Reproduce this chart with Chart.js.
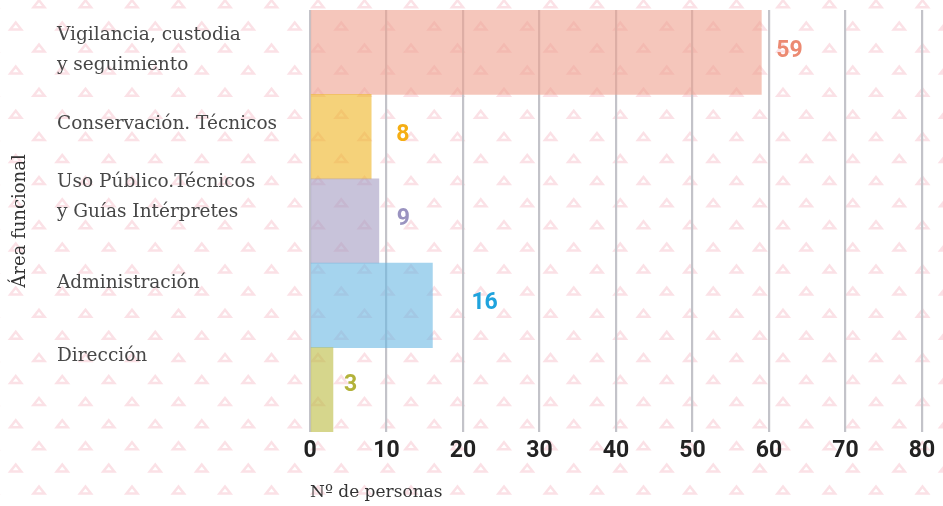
<!DOCTYPE html>
<html><head><meta charset="utf-8">
<script src="https://cdn.jsdelivr.net/npm/chart.js@4"></script>
<style>html,body{margin:0;padding:0;background:#fff;} #wrap{width:943px;height:506px;}</style>
</head><body><div id="wrap"><canvas id="c" width="943" height="506"></canvas></div>
<script>
// ---- data ----
const categories = [
  ["Vigilancia, custodia", "y seguimiento"],
  ["Conservación. Técnicos"],
  ["Uso Público.Técnicos", "y Guías Intérpretes"],
  ["Administración"],
  ["Dirección"]
];
const values = [59, 8, 9, 16, 3];
const xTicks = [0, 10, 20, 30, 40, 50, 60, 70, 80];

// ---- styles ----
const barColors = ["rgba(238,160,142,0.6)", "rgba(238,180,33,0.6)", "rgba(163,155,193,0.6)", "rgba(105,183,227,0.6)", "rgba(187,187,63,0.6)"];
const labelColors = ["#ec8a72", "#f5ae14", "#9a93c0", "#1fa3dd", "#b3b23a"];
const labelShift = [-2, -12, -24, -22, -34];
const valueGap = [15, 25, 18, 39, 11];
const valueShift = [-1, -1, -2, -2, -5];

const patternPlugin = {
  id: 'pattern',
  beforeDraw(chart) {
    const ctx = chart.ctx; ctx.save();
    ctx.fillStyle = '#fff'; ctx.fillRect(0, 0, chart.width, chart.height);
    ctx.strokeStyle = 'rgba(238,120,140,0.22)'; ctx.lineWidth = 2.5; ctx.lineJoin = 'miter';
    const dx = 46.5, dy = 22.1;
    for (let r = -1; r * dy < chart.height + 20; r++) {
      const y = 3.5 + r * dy;
      const off = (r % 2 === 0) ? 39 : 15.75;
      for (let x = off - dx; x < chart.width + dx; x += dx) {
        ctx.beginPath();
        ctx.moveTo(x, y - 3.2);
        ctx.lineTo(x + 5.5, y + 3.8);
        ctx.lineTo(x - 5.5, y + 3.8);
        ctx.closePath(); ctx.stroke();
      }
    }
    ctx.restore();
  }
};

const catLabelPlugin = {
  id: 'catLabels',
  afterDraw(chart) {
    const ys = chart.scales.y, ctx = chart.ctx; ctx.save();
    ctx.font = '18.5px "DejaVu Serif"'; ctx.fillStyle = '#474747';
    ctx.textAlign = 'left'; ctx.textBaseline = 'middle';
    categories.forEach((lines, i) => {
      const cy = ys.getPixelForValue(i) + labelShift[i];
      const lh = 30, start = cy - (lines.length - 1) * lh / 2;
      lines.forEach((t, j) => ctx.fillText(t, 57, start + j * lh));
    });
    ctx.restore();
  }
};

const valueLabelPlugin = {
  id: 'valueLabels',
  afterDatasetsDraw(chart) {
    const meta = chart.getDatasetMeta(0), xs = chart.scales.x, ctx = chart.ctx; ctx.save();
    ctx.font = 'bold 23px Roboto'; ctx.textAlign = 'left'; ctx.textBaseline = 'middle';
    values.forEach((v, i) => {
      ctx.fillStyle = labelColors[i];
      ctx.fillText(String(v), xs.getPixelForValue(v) + valueGap[i], meta.data[i].y + valueShift[i]);
    });
    ctx.restore();
  }
};

new Chart(document.getElementById('c'), {
  type: 'bar',
  data: {
    labels: categories,
    datasets: [{ data: values, backgroundColor: barColors, borderWidth: 0, barPercentage: 1, categoryPercentage: 1 }]
  },
  options: {
    indexAxis: 'y', responsive: false, animation: false,
    layout: { padding: { left: 0, right: 21, top: 10, bottom: 0 } },
    plugins: { legend: { display: false }, tooltip: { enabled: false } },
    scales: {
      x: {
        min: 0, max: 80,
        afterBuildTicks(s) { s.ticks = xTicks.map(v => ({ value: v })); },
        ticks: { font: { family: 'Roboto', weight: 'bold', size: 23 }, color: '#222', padding: 5, maxRotation: 0, autoSkip: false },
        grid: { color: '#c3c3c9', lineWidth: 2.2, drawTicks: false },
        border: { display: false },
        title: { display: true, text: 'Nº de personas', align: 'start', font: { family: 'DejaVu Serif', size: 17 }, color: '#333', padding: { top: 0, bottom: 3 } },
        afterFit(s) { s.height = 74; }
      },
      y: {
        ticks: { display: false },
        grid: { display: false },
        border: { display: false },
        title: { display: true, text: 'Área funcional', font: { family: 'DejaVu Serif', size: 18 }, color: '#333', padding: { top: 10, bottom: 0 } },
        afterFit(s) { s.width = 310; }
      }
    }
  },
  plugins: [patternPlugin, catLabelPlugin, valueLabelPlugin]
});
</script>
</body></html>
